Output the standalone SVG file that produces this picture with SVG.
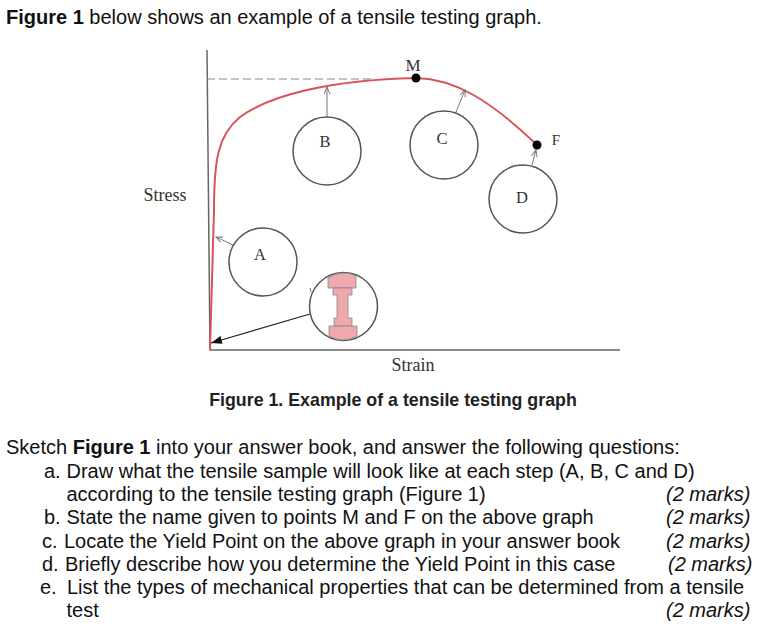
<svg xmlns="http://www.w3.org/2000/svg" width="770" height="638" viewBox="0 0 770 638">
<style>
.t{font-family:"Liberation Sans",Arial,sans-serif;font-size:20px;fill:#111}
.i{font-style:italic}
.b{font-weight:bold}
.s{font-family:"Liberation Serif","Times New Roman",serif;fill:#333}
.cap{font-family:"Liberation Sans",Arial,sans-serif;font-size:17.8px;font-weight:bold;fill:#222}
.c{fill:#fff;stroke:#555;stroke-width:1.5}
.ax{fill:none;stroke:#666;stroke-width:1.5}
.lead{fill:none;stroke:#777;stroke-width:1;marker-end:url(#a)}
.sp{fill:#efa9ae;stroke:#888;stroke-width:.8}
</style>
<defs>
<marker id="a" markerWidth="8" markerHeight="8" refX="7" refY="3" orient="auto" markerUnits="userSpaceOnUse"><path d="M0 0L7 3L0 6" fill="none" stroke="#777"/></marker>
<marker id="k" markerWidth="12" markerHeight="10" refX="11" refY="4" orient="auto" markerUnits="userSpaceOnUse"><path d="M0 0L11 4L0 8z" fill="#111"/></marker>
</defs>
<rect width="770" height="638" fill="#fff"/>
<text class="t" x="6" y="24"><tspan class="b">Figure 1</tspan> below shows an example of a tensile testing graph.</text>
<g id="connectors">
<path class="ax" d="M207 50L210 350H620"/>
<path d="M207 79H375" fill="none" stroke="#888" stroke-width="1.2" stroke-dasharray="8 4"/>
<path d="M210 350L214 210C214 160 218 135 240 117C270 95 330 80 416 78C455 79 490 100 537 145" fill="none" stroke="#d9535a" stroke-width="2"/>
<path class="lead" d="M327 117V87"/>
<path class="lead" d="M456 112L465 90"/>
<path class="lead" d="M532 165L536 150"/>
<path class="lead" d="M233 245L216 237"/>
<path d="M310 314L211 343" fill="none" stroke="#222" stroke-width="1.3" marker-end="url(#k)"/>
</g>
<g id="point-M"><circle cx="416" cy="78" r="4.500" fill="#000"/><text class="s" x="413" y="71" font-size="17" text-anchor="middle">M</text></g>
<g id="point-F"><circle cx="537" cy="145" r="4.500" fill="#000"/><text class="s" x="556" y="145" font-size="15" text-anchor="middle">F</text></g>
<g id="node-A"><circle class="c" cx="263" cy="262" r="34"/><text class="s" x="260" y="260" font-size="16.5" text-anchor="middle">A</text></g>
<g id="node-B"><circle class="c" cx="327" cy="151" r="34"/><text class="s" x="325" y="147" font-size="16.5" text-anchor="middle">B</text></g>
<g id="node-C"><circle class="c" cx="444" cy="145" r="34"/><text class="s" x="442" y="144" font-size="16.5" text-anchor="middle">C</text></g>
<g id="node-D"><circle class="c" cx="523" cy="199" r="34"/><text class="s" x="522" y="203" font-size="16.5" text-anchor="middle">D</text></g>
<g id="node-sample">
<circle class="c" cx="343.500" cy="306.500" r="34"/>
<path d="M311 292L310 288" fill="none" stroke="#777"/>
<path class="sp" d="M328 278Q343 269 356 276V288H328Z"/>
<path class="sp" d="M333 288H352V295H348V318H352V326H334V318H337V295H333Z"/>
<path class="sp" d="M329 326H357V336Q343 344 329 336Z"/>
</g>
<text class="s" x="165" y="201" font-size="18" text-anchor="middle">Stress</text>
<text class="s" x="413" y="371" font-size="18" text-anchor="middle">Strain</text>
<text class="cap" x="393" y="406" text-anchor="middle">Figure 1. Example of a tensile testing graph</text>
<g id="questions">
<text class="t" x="6" y="454">Sketch <tspan class="b">Figure 1</tspan> into your answer book, and answer the following questions:</text>
<text class="t" x="44" y="478">a.</text><text class="t" x="66.500" y="478">Draw what the tensile sample will look like at each step (A, B, C and D)</text>
<text class="t" x="66.500" y="501">according to the tensile testing graph (Figure 1)</text>
<text class="t" x="44" y="524">b.</text><text class="t" x="66.500" y="524">State the name given to points M and F on the above graph</text>
<text class="t" x="42" y="548">c.</text><text class="t" x="64" y="548">Locate the Yield Point on the above graph in your answer book</text>
<text class="t" x="42" y="571">d.</text><text class="t" x="65" y="571">Briefly describe how you determine the Yield Point in this case</text>
<text class="t" x="40" y="594">e.</text><text class="t" x="67" y="594">List the types of mechanical properties that can be determined from a tensile</text>
<text class="t" x="66.500" y="617">test</text>
<text class="t i" x="666" y="501">(2 marks)</text>
<text class="t i" x="666" y="524">(2 marks)</text>
<text class="t i" x="666" y="548">(2 marks)</text>
<text class="t i" x="668" y="571">(2 marks)</text>
<text class="t i" x="666" y="617">(2 marks)</text>
</g>
</svg>
